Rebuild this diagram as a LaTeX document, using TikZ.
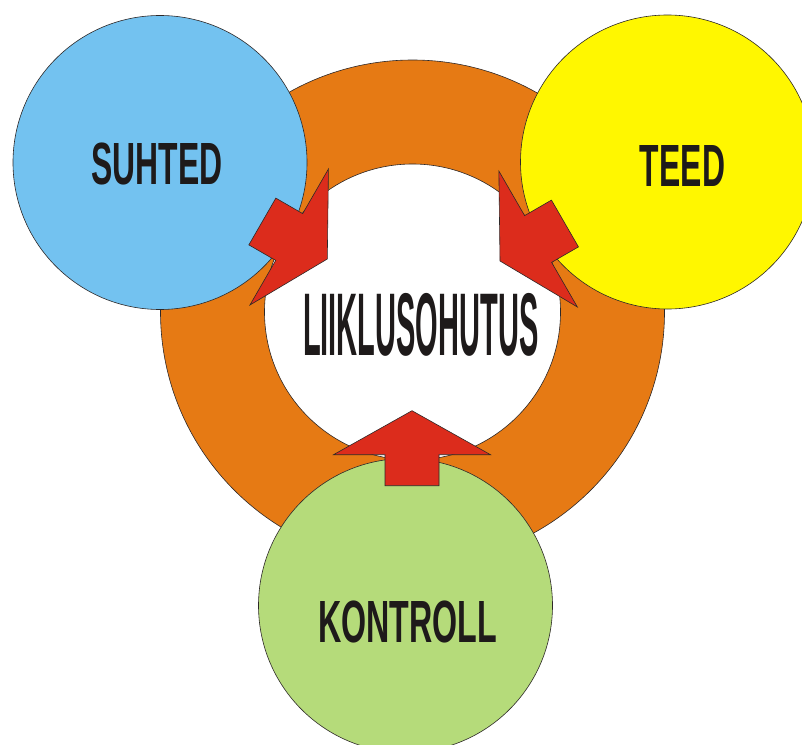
\documentclass[tikz,border=0pt]{standalone}
\usepackage{fontspec}
\setmainfont{Liberation Sans}
\definecolor{ringorange}{RGB}{230,122,20}
\definecolor{skyblue}{RGB}{115,194,240}
\definecolor{sunyellow}{RGB}{255,247,0}
\definecolor{leafgreen}{RGB}{181,219,122}
\definecolor{arrowred}{RGB}{220,44,28}
\definecolor{outline}{RGB}{45,40,40}
\definecolor{textblack}{RGB}{30,26,26}
\tikzset{
  edge/.style={draw=outline, line width=0.6pt},
  bubble/.style={circle, edge, minimum size=294pt, inner sep=0pt},
  redarrow/.pic={\draw[edge, fill=arrowred, line join=miter]
     (0,0) -- (-44,78.5) -- (-44,27) -- (-75,27) -- (-75,-27) -- (-44,-27) -- (-44,-78.5) -- cycle;},
  label/.style={inner sep=0pt, text=textblack, font=\bfseries}
}
\newcommand{\narrowtext}[3]{\scalebox{#1}[1]{\fontsize{#2}{#2}\selectfont #3}}
\begin{document}
\begin{tikzpicture}[x=1pt,y=1pt]
\useasboundingbox (0,0) rectangle (802,-744);
\clip (0,0) rectangle (802,-744);
% ring
\coordinate (c) at (412.5,-312);
\fill[ringorange, even odd rule] (c) circle (252) (c) circle (148);
\draw[edge] (c) circle (252);
\draw[edge] (c) circle (148);
% circles
\node[bubble, fill=skyblue] (suhted) at (160,-162.5) {};
\node[bubble, fill=sunyellow] (teed) at (667.5,-162) {};
\node[bubble, fill=leafgreen] (kontroll) at (405.5,-605.5) {};
% arrows
\pic[rotate=-30] at (327.3,-259) {redarrow};
\pic[rotate=-150] at (500,-261) {redarrow};
\pic[rotate=90] at (412,-410.7) {redarrow};
% labels
\node[label] (tsuhted) at (157,-163.8) {\narrowtext{0.535}{59.6}{SUHTED}};
\node[label] (tteed) at (682.5,-166.3) {\narrowtext{0.535}{59.6}{TEED}};
\node[label] (tkontroll) at (407.5,-621.8) {\narrowtext{0.54}{59.6}{KONTROLL}};
\node[label] (tcenter) at (420.8,-325) {\narrowtext{0.326}{89}{LIIKLUSOHUTUS}};
\end{tikzpicture}
\end{document}
